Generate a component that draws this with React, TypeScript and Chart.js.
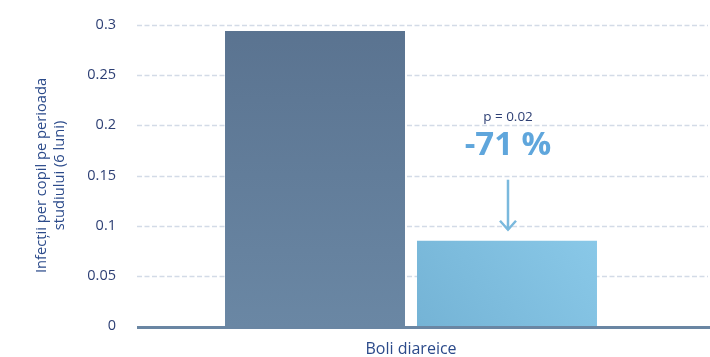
import React, { useEffect, useRef } from "react";
import { Chart, registerables } from "chart.js";

Chart.register(...registerables);

const categories = ["Boli diareice"];
const seriesLabels = ["Grup control", "Grup intervenție"];
const controlValues = [0.294];
const interventionValues = [0.085];
const yTickValues = [0, 0.05, 0.1, 0.15, 0.2, 0.25, 0.3];
const yTitle = ["Infecții per copil pe perioada", "studiului (6 luni)"];
const pValueText = "p = 0.02";
const changeText = "-71 %";

const FONT = "'Open Sans', 'DejaVu Sans', sans-serif";

const overlayPlugin = {
  id: "overlay",
  beforeDatasetsDraw(chart: any) {
    const { ctx, chartArea, scales } = chart;
    const y = scales.y;
    const W = chart.width;
    ctx.save();
    ctx.strokeStyle = "#d3dbe7";
    ctx.lineWidth = 1.5;
    ctx.setLineDash([5, 2.5]);
    yTickValues.forEach((v) => {
      if (v === 0) return;
      const py = Math.round(y.getPixelForValue(v)) + 0.5;
      ctx.beginPath();
      ctx.moveTo(chartArea.left, py);
      ctx.lineTo(W - 2, py);
      ctx.stroke();
    });
    ctx.restore();
  },
  afterDatasetsDraw(chart: any) {
    const { ctx, scales, chartArea } = chart;
    const y = scales.y;
    const W = chart.width;
    const y0 = y.getPixelForValue(0);
    ctx.save();
    // baseline axis
    ctx.strokeStyle = "#6a86a3";
    ctx.lineWidth = 3;
    ctx.beginPath();
    ctx.moveTo(chartArea.left, y0 + 1.5);
    ctx.lineTo(W, y0 + 1.5);
    ctx.stroke();

    // annotation over second bar
    const bar = chart.getDatasetMeta(1).data[0];
    const cx = bar.x + 1;
    const top = bar.y;
    ctx.textAlign = "center";
    ctx.textBaseline = "middle";
    ctx.fillStyle = "#2d3f74";
    ctx.font = `13.5px ${FONT}`;
    ctx.fillText(pValueText, cx, top - 124);
    ctx.fillStyle = "#5fa6dc";
    ctx.font = `bold 33px ${FONT}`;
    ctx.fillText(changeText, cx, top - 95);

    // arrow
    ctx.strokeStyle = "#7ab9dd";
    ctx.lineWidth = 2.5;
    ctx.lineCap = "butt";
    ctx.beginPath();
    ctx.moveTo(cx, top - 61);
    ctx.lineTo(cx, top - 11);
    ctx.stroke();
    ctx.beginPath();
    ctx.moveTo(cx - 8, top - 20);
    ctx.lineTo(cx, top - 11);
    ctx.lineTo(cx + 8, top - 20);
    ctx.stroke();
    ctx.restore();
  },
};

export default function App() {
  const ref = useRef<HTMLCanvasElement | null>(null);

  useEffect(() => {
    document.body.style.margin = "0";
    const canvas = ref.current;
    if (!canvas) return;

    const gradDark = (context: any) => {
      const { chart } = context;
      const ca = chart.chartArea;
      if (!ca) return "#607b97";
      const g = chart.ctx.createLinearGradient(0, ca.top, 0, ca.bottom);
      g.addColorStop(0, "#5a7390");
      g.addColorStop(1, "#6a87a4");
      return g;
    };
    const gradLight = (context: any) => {
      const { chart } = context;
      const ca = chart.chartArea;
      const xs = chart.scales && chart.scales.x;
      if (!ca || !xs) return "#80c0e1";
      const c = xs.getPixelForValue(0);
      const w = (ca.right - ca.left) * 0.35;
      const g = chart.ctx.createLinearGradient(c, ca.bottom, c + w, ca.top + 150);
      g.addColorStop(0, "#74b3d5");
      g.addColorStop(1, "#8ecdec");
      return g;
    };

    const chart = new Chart(canvas, {
      type: "bar",
      data: {
        labels: categories,
        datasets: [
          {
            label: seriesLabels[0],
            data: controlValues,
            backgroundColor: gradDark,
            borderWidth: 0,
            categoryPercentage: 0.7007,
            barPercentage: 0.9375,
          },
          {
            label: seriesLabels[1],
            data: interventionValues,
            backgroundColor: gradLight,
            borderWidth: 0,
            categoryPercentage: 0.7007,
            barPercentage: 0.9375,
          },
        ],
      },
      options: {
        responsive: false,
        animation: false,
        devicePixelRatio: 1,
        layout: { padding: { top: 25, right: 25, bottom: 1, left: 0 } },
        plugins: {
          legend: { display: false },
          tooltip: { enabled: false },
        },
        scales: {
          x: {
            grid: { display: false, drawTicks: false },
            border: { display: false },
            afterFit: (scale: any) => {
              scale.height = 30;
            },
            ticks: {
              color: "#2b4a8a",
              font: { family: FONT, size: 16 },
              padding: 14,
            },
          },
          y: {
            min: 0,
            max: 0.3,
            grid: { display: false, drawTicks: false },
            border: { display: false },
            afterBuildTicks: (scale: any) => {
              scale.ticks = yTickValues.map((v) => ({ value: v }));
            },
            afterFit: (scale: any) => {
              scale.width = 137;
              scale.paddingTop = 0;
              scale.paddingBottom = 0;
            },
            ticks: {
              color: "#2d3f74",
              font: { family: FONT, size: 14.5 },
              padding: 21,
              callback: (v: any) => String(parseFloat(Number(v).toFixed(2))),
            },
            title: {
              display: true,
              text: yTitle,
              color: "#2b4a8a",
              font: { family: FONT, size: 14.7, lineHeight: 18 / 14.7 },
              padding: { top: 33, bottom: 0 },
            },
          },
        },
      },
      plugins: [overlayPlugin],
    });

    return () => chart.destroy();
  }, []);

  return (
    <div style={{ width: 710, height: 357 }}>
      <canvas ref={ref} width={710} height={357} style={{ display: "block" }} />
    </div>
  );
}
